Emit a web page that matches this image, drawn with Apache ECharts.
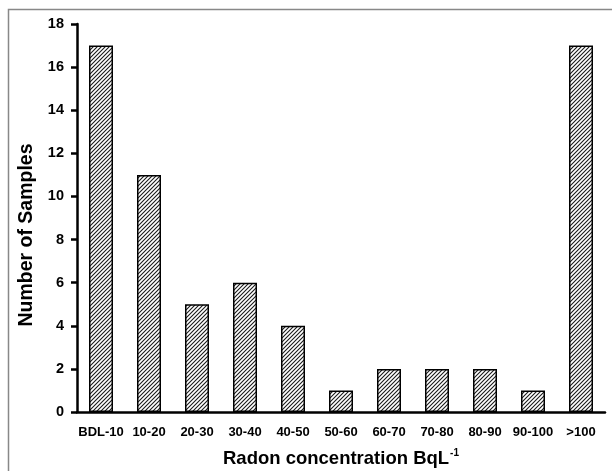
<!DOCTYPE html>
<html>
<head>
<meta charset="utf-8">
<script src="https://cdn.jsdelivr.net/npm/echarts@6/dist/echarts.min.js"></script>
<style>html,body{margin:0;padding:0;background:#fff}#c{width:612px;height:471px}</style>
</head>
<body>
<div id="c"></div>
<script>
const categories = ['BDL-10','10-20','20-30','30-40','40-50','50-60','60-70','70-80','80-90','90-100','>100'];
const samples = [17, 11, 5, 6, 4, 1, 2, 2, 2, 1, 17];
const yTicks = {min: 0, max: 18, interval: 2};

function hatch() {
  const s = 4;
  const c = document.createElement('canvas');
  c.width = s; c.height = s;
  const g = c.getContext('2d');
  g.fillStyle = '#fff';
  g.fillRect(0, 0, s, s);
  g.strokeStyle = '#1a1a1a';
  g.lineWidth = 1.1;
  g.beginPath();
  g.moveTo(-1, s + 1); g.lineTo(s + 1, -1);
  g.moveTo(-1, 1); g.lineTo(1, -1);
  g.moveTo(s - 1, s + 1); g.lineTo(s + 1, s - 1);
  g.stroke();
  return c;
}

const chart = echarts.init(document.getElementById('c'), null, {renderer: 'canvas'});
const font = 'Liberation Sans, Arial, sans-serif';
chart.setOption({
  animation: false,
  graphic: [{
    type: 'polyline',
    shape: {points: [[8.5, 471], [8.5, 9.5], [612, 9.5]]},
    style: {stroke: '#888', lineWidth: 1.5, fill: null}
  }],
  grid: {left: 77, right: 7, top: 24, bottom: 59, containLabel: false, outerBoundsMode: 'none'},
  xAxis: {
    type: 'category',
    data: categories,
    name: 'Radon concentration {b|BqL}{s|-1}',
    nameLocation: 'middle',
    nameGap: 36,
    nameTextStyle: {
      fontFamily: font, fontWeight: 'bold', fontSize: 18.5, color: '#000',
      rich: {
        b: {fontFamily: font, fontWeight: 'bold', fontSize: 18.5, color: '#000'},
        s: {fontFamily: font, fontWeight: 'bold', fontSize: 10, color: '#000', verticalAlign: 'top', padding: [0, 0, 12, 1]}
      }
    },
    axisLine: {lineStyle: {color: '#000', width: 2.5}},
    axisTick: {alignWithLabel: true, length: 6, lineStyle: {color: '#000', width: 2.5}},
    axisLabel: {fontFamily: font, fontWeight: 'bold', fontSize: 13, color: '#000', margin: 14, interval: 0}
  },
  yAxis: {
    type: 'value',
    min: yTicks.min, max: yTicks.max, interval: yTicks.interval,
    name: 'Number of Samples',
    nameLocation: 'middle',
    nameGap: 40,
    nameTextStyle: {fontFamily: font, fontWeight: 'bold', fontSize: 19.5, color: '#000', padding: [0, 34, 0, 0]},
    splitLine: {show: false},
    axisLine: {show: true, lineStyle: {color: '#000', width: 2.5}},
    axisTick: {show: true, length: 6, lineStyle: {color: '#000', width: 2.5}},
    axisLabel: {fontFamily: font, fontWeight: 'bold', fontSize: 14.5, color: '#000', margin: 13}
  },
  series: [{
    type: 'bar',
    data: samples,
    barWidth: '50%',
    itemStyle: {
      color: {image: hatch(), repeat: 'repeat'},
      borderColor: '#000',
      borderWidth: 1.5
    }
  }]
});
</script>
</body>
</html>
